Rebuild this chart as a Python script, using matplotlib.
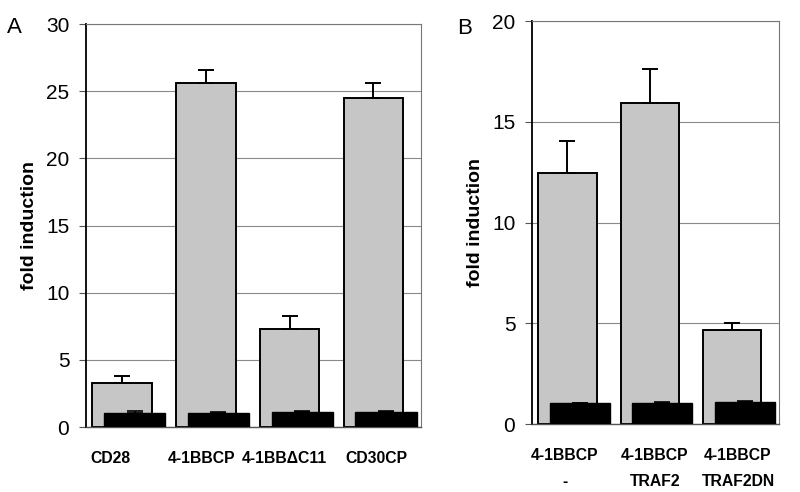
import matplotlib
matplotlib.use("Agg")
from matplotlib import pyplot as plt

plt.rcParams['font.family'] = ['Liberation Sans', 'DejaVu Sans']

# Panel A data
labels_a = ['CD28', '4-1BBCP', '4-1BB\u0394C11', 'CD30CP']
gray_a = [3.3, 25.6, 7.3, 24.5]
gray_err_a = [0.5, 1.0, 1.0, 1.1]
black_a = [1.08, 1.08, 1.1, 1.1]
black_err_a = [0.12, 0.05, 0.08, 0.08]

# Panel B data
labels_b = ['4-1BBCP\n-', '4-1BBCP\nTRAF2', '4-1BBCP\nTRAF2DN']
gray_b = [12.45, 15.95, 4.67]
gray_err_b = [1.6, 1.7, 0.35]
black_b = [1.03, 1.05, 1.08]
black_err_b = [0.04, 0.04, 0.06]


def draw_panel(ax, labels, gray, gray_err, black, black_err, ymax, step, label_shift):
    x = list(range(len(labels)))
    xg = [i - 0.07 for i in x]
    xb = [i + 0.08 for i in x]
    ax.set_axisbelow(True)
    ax.yaxis.grid(True, color='#8a8a8a', linewidth=0.8)
    ax.bar(xg, gray, width=0.71, color='#c6c6c6', edgecolor='black', linewidth=1.4,
           yerr=[[0] * len(gray), gray_err], error_kw=dict(capsize=6, elinewidth=1.4, capthick=1.4),
           zorder=2)
    ax.bar(xb, black, width=0.73, color='black', edgecolor='black', linewidth=1,
           yerr=[[0] * len(black), black_err], error_kw=dict(capsize=6, elinewidth=1.2, capthick=1.2),
           zorder=3)
    ax.set_xlim(-0.5, len(labels) - 0.5)
    ax.set_ylim(0, ymax)
    ax.set_yticks(range(0, ymax + 1, step))
    ax.set_xticks([i + s for i, s in zip(x, label_shift)])
    ax.set_xticklabels(labels, fontweight='bold', fontsize=11.3, linespacing=1.9)
    ax.tick_params(axis='x', length=0, pad=17)
    ax.tick_params(axis='y', length=5, width=0.8, color='#555555', pad=7, labelsize=15)
    ax.set_ylabel('fold induction', fontweight='bold', fontsize=14, labelpad=6)
    ax.spines['left'].set_linewidth(1.3)
    ax.spines['bottom'].set_linewidth(1.0)
    ax.spines['bottom'].set_color('#555555')
    for s in ['top', 'right']:
        ax.spines[s].set_linewidth(0.8)
        ax.spines[s].set_color('#777777')


fig = plt.figure(figsize=(8, 4.92), dpi=100)
ax_a = fig.add_axes([0.1075, 0.132, 0.419, 0.819])
ax_b = fig.add_axes([0.665, 0.138, 0.309, 0.819])

draw_panel(ax_a, labels_a, gray_a, gray_err_a, black_a, black_err_a, 30, 5,
           [-0.21, -0.12, -0.13, -0.04])
draw_panel(ax_b, labels_b, gray_b, gray_err_b, black_b, black_err_b, 20, 5,
           [-0.1, -0.01, 0.0])

fig.text(0.009, 0.933, 'A', fontsize=16)
fig.text(0.571, 0.931, 'B', fontsize=16)

fig.savefig('out.png', dpi=100)
